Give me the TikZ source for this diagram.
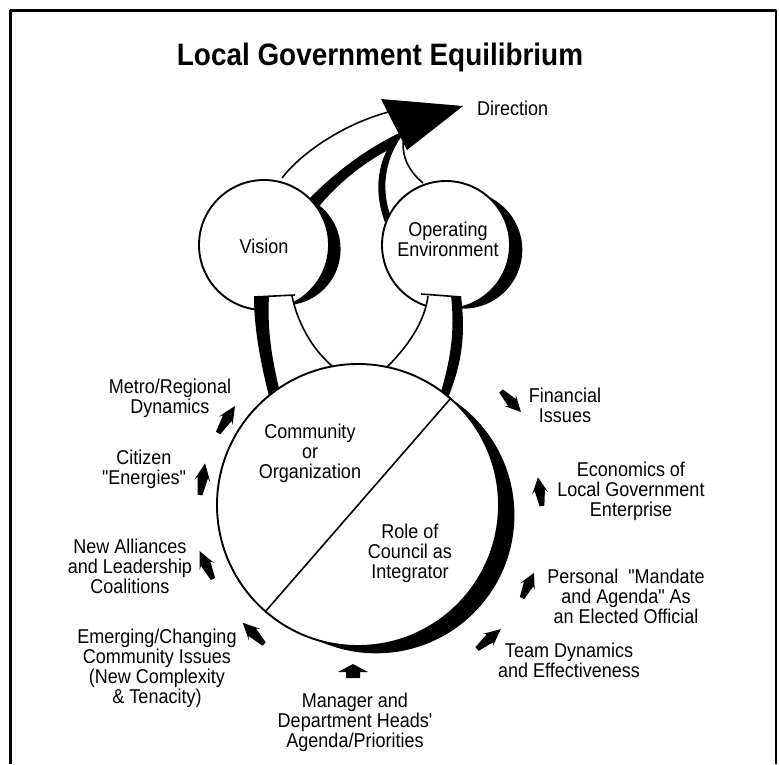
\documentclass[tikz,border=0pt]{standalone}
\usepackage{fontspec}
\setmainfont{Liberation Sans}[FakeStretch=0.9,Ligatures=TeXOff]
\usetikzlibrary{calc}
% small black pointer: tail x, tail y, angle, length, half width
\newcommand\lgearrow[5]{%
  \fill[shift={(#1,#2)}, rotate=#3] (0,-0.3*#5) -- (0.55*#4,-0.65*#5) -- (0.45*#4,-#5)
    -- (#4,0) -- (0.45*#4,#5) -- (0.55*#4,0.65*#5) -- (0,0.3*#5) -- cycle;}
\begin{document}
\begin{tikzpicture}[x=1pt,y=-1pt,line join=round,
  outline/.style={draw=black,line width=1.9pt},
  edge/.style={draw=black,line width=1.6pt},
  lbl/.style={align=center,inner sep=0pt,font=\fontsize{20}{20}\selectfont}]
\useasboundingbox (0,0) rectangle (779,764);

% frame, open at the foot
\draw[line width=2.4pt] (10.5,764) -- (10.5,10.5) -- (776,10.5) -- (776,764);
\node[inner sep=0pt,font=\fontsize{31}{32}\selectfont\bfseries] (title) at (380,57) {Local Government Equilibrium};

% centres of the three spheres
\coordinate (vc) at (264,245);
\coordinate (oc) at (446,245);
\coordinate (bc) at (358,505);

% crescent shadows
\fill ($(vc)+(20.6,4.3)$) circle[radius=56];
\fill ($(oc)+(17.6,4.9)$) circle[radius=58.7];
\fill ($(bc)+(18.2,10.1)$) circle[radius=138.2];

% ribbon from Vision towards Direction
\fill[white] (295,205) -- (282,178) .. controls (302,152) and (345,123) .. (392,111)
  -- (404,131) .. controls (370,146) and (336,171) .. (307,201) -- cycle;
\draw[edge] (282,178) .. controls (302,152) and (345,123) .. (392,111);
\fill (307,201) .. controls (336,171) and (370,146) .. (404,131)
  -- (410,140) .. controls (374,154) and (341,179) .. (316,210) -- cycle;

% ribbon from Operating Environment towards Direction
\fill[white] (392,220) .. controls (380,190) and (385,160) .. (401,137)
  -- (405,133) .. controls (400,150) and (405,168) .. (423,183) -- (420,210) -- cycle;
\draw[edge] (423,183) .. controls (405,168) and (400,150) .. (405,133);
\fill (386,225) .. controls (372,190) and (378,158) .. (397,134)
  -- (401,137) .. controls (385,160) and (380,190) .. (392,220) -- cycle;

% Direction arrowhead
\fill (381,99) -- (463,106) -- (407,150) -- cycle;
\node[lbl,anchor=west] (direction) at (477,108.5) {Direction};

% the two upper spheres
\node[circle,outline,fill=white,minimum size=130pt,inner sep=0pt] (vision) at (vc) {};
\node[circle,outline,fill=white,minimum size=128pt,inner sep=0pt] (openv) at (oc) {};
\node[lbl] (visiontext) at (264,246) {Vision};
\node[lbl] (openvtext) at (448,239) {Operating\\Environment};

% ribbon from Vision down to the community
\fill[white] (268,296) -- (292,295) .. controls (298,325) and (315,355) .. (340,372)
  -- (282,400) .. controls (272,362) and (266,330) .. (268,296) -- cycle;
\draw[edge] (292,296) .. controls (298,325) and (315,355) .. (340,372);
\fill (254,296) .. controls (254,330) and (261,365) .. (270,400)
  -- (282,400) .. controls (272,362) and (267,330) .. (269,296) -- cycle;
\draw[edge] (254,297) -- (295,295);

% ribbon from Operating Environment down to the community
\fill[white] (428,296) -- (452,297) .. controls (456,330) and (452,360) .. (440,398)
  -- (383,372) .. controls (410,345) and (425,320) .. (428,296) -- cycle;
\draw[edge] (428,296) .. controls (425,320) and (410,345) .. (383,371);
\fill (451,296) .. controls (455,330) and (451,360) .. (439,398)
  -- (447,400) .. controls (464,360) and (465,330) .. (461,296) -- cycle;
\draw[edge] (421,294) -- (461,297);

% the community sphere, split in two
\node[circle,outline,fill=white,minimum size=282pt,inner sep=0pt] (community) at (bc) {};
\draw[edge] (community.49) -- (community.229);
\node[lbl] (communitytext) at (310,453) {Community\\or\\Organization};
\node[lbl] (councilrole) at (410,553) {Role of\\Council as\\Integrator};

% surrounding forces
\node[lbl] (metro) at (170,398.5) {Metro/Regional\\Dynamics};
\node[lbl] (citizen) at (144,469) {Citizen\\"Energies"};
\node[lbl] (alliances) at (130,566) {New Alliances\\and Leadership\\Coalitions};
\node[lbl] (emerging) at (157,668) {Emerging/Changing\\Community Issues\\(New Complexity\\\& Tenacity)};
\node[lbl] (manager) at (355,722) {Manager and\\Department Heads'\\Agenda/Priorities};
\node[lbl] (team) at (569,660.5) {Team Dynamics\\and Effectiveness};
\node[lbl] (personal) at (626,596.5) {Personal\ \ "Mandate\\and Agenda" As\\an Elected Official};
\node[lbl] (economics) at (631,491.5) {Economics of\\Local Government\\Enterprise};
\node[lbl] (financial) at (565,405.5) {Financial\\Issues};

% pointers towards the community sphere
\lgearrow{218}{433}{57.8}{32}{8}
\lgearrow{200}{495}{80.8}{32}{8}
\lgearrow{213}{579}{115.7}{31}{8}
\lgearrow{264}{644}{135}{30}{8}
\lgearrow{477}{649}{39.8}{31}{8}
\lgearrow{522}{598}{64.4}{28}{8}
\lgearrow{542}{506}{98.1}{29}{8}
\lgearrow{501}{391}{-46.4}{29}{8}
\fill (346,678) -- (346,672) -- (338,672) -- (353,664) -- (368,672) -- (360,672) -- (360,678) -- cycle;
\end{tikzpicture}
\end{document}
